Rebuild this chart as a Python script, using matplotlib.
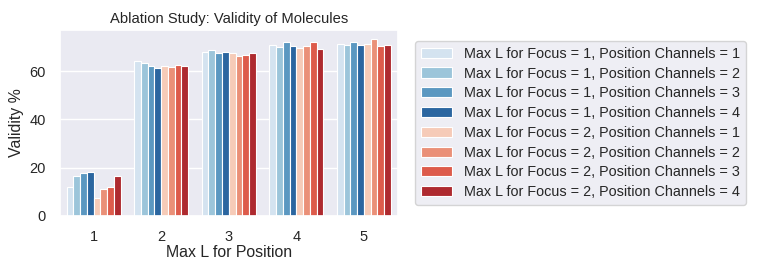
import numpy as np
import matplotlib
matplotlib.use("Agg")
import matplotlib.pyplot as plt
import seaborn as sns

sns.set_theme(style="darkgrid")
plt.rcParams["font.family"] = ["Liberation Sans", "DejaVu Sans"]

# Validity (%) per Max L for Position, one list per configuration
max_l_position = ["1", "2", "3", "4", "5"]
labels = [
    "Max L for Focus = 1, Position Channels = 1",
    "Max L for Focus = 1, Position Channels = 2",
    "Max L for Focus = 1, Position Channels = 3",
    "Max L for Focus = 1, Position Channels = 4",
    "Max L for Focus = 2, Position Channels = 1",
    "Max L for Focus = 2, Position Channels = 2",
    "Max L for Focus = 2, Position Channels = 3",
    "Max L for Focus = 2, Position Channels = 4",
]
f1_c1 = [12.1, 64.3, 67.8, 70.8, 71.4]
f1_c2 = [16.7, 63.5, 68.7, 70.0, 70.8]
f1_c3 = [17.8, 62.1, 67.6, 72.2, 72.2]
f1_c4 = [18.0, 61.4, 68.0, 70.4, 70.8]
f2_c1 = [7.6, 62.0, 67.4, 69.7, 71.4]
f2_c2 = [11.3, 61.5, 66.4, 70.3, 73.2]
f2_c3 = [11.8, 62.6, 66.5, 72.0, 70.5]
f2_c4 = [16.4, 62.2, 67.4, 69.0, 70.9]
series = [f1_c1, f1_c2, f1_c3, f1_c4, f2_c1, f2_c2, f2_c3, f2_c4]

colors = ["#d4e3f0", "#9cc5da", "#5b98c1", "#2b66a0",
          "#f6cbb8", "#ea9078", "#dd5b4b", "#ae2a2f"]

fig = plt.figure(figsize=(7.62, 2.73), dpi=100)
ax = fig.add_axes([0.0787, 0.209, 0.443, 0.681])

x = np.arange(len(max_l_position))
n = len(series)
w = 0.8 / n
for i, vals in enumerate(series):
    ax.bar(x - 0.4 + w * (i + 0.5), vals, width=w, color=colors[i],
           edgecolor="white", linewidth=0.8, label=labels[i])

ax.set_xticks(x)
ax.set_xticklabels(max_l_position)
ax.set_xlim(-0.5, 4.5)
ax.set_ylim(0, 77)
ax.set_yticks([0, 20, 40, 60])
ax.grid(axis="x", visible=False)
ax.tick_params(labelsize=10.5, pad=4)
ax.set_xlabel("Max L for Position", fontsize=11.4, labelpad=1)
ax.set_ylabel("Validity %", fontsize=11.4)
ax.set_title("Ablation Study: Validity of Molecules", fontsize=10.6, pad=5)
ax.legend(loc="center left", bbox_to_anchor=(1.03, 0.5), fontsize=10.4,
          labelspacing=0.4, handlelength=2.2)

fig.savefig("out.png", dpi=100)
